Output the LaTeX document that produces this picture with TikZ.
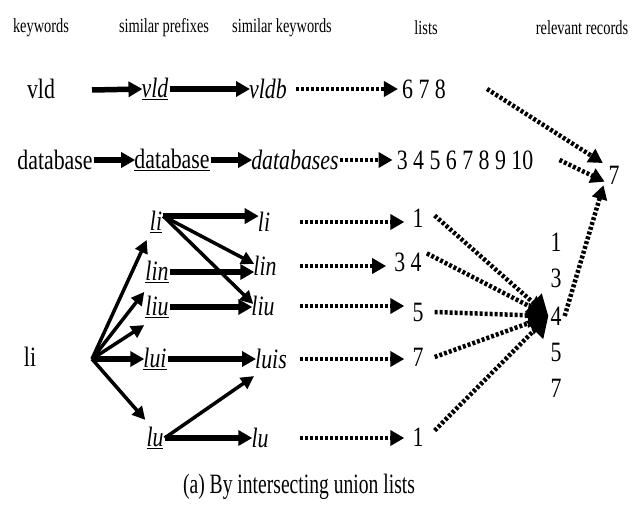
\documentclass[tikz,border=0pt]{standalone}
\usepackage{fontspec}
\setmainfont{Liberation Serif}[FakeStretch=0.78]
\newfontfamily\hdfont{Liberation Serif}[FakeStretch=0.72]
\newfontfamily\capfont{Liberation Serif}[FakeStretch=0.7]
\usetikzlibrary{arrows.meta}
\begin{document}
\begin{tikzpicture}[x=1pt,y=-1pt,
  hd/.style={font=\hdfont\fontsize{20}{20}\selectfont, inner sep=1pt},
  txt/.style={font=\fontsize{28}{28}\selectfont, inner sep=1pt},
  solidarr/.style={line width=5.5pt, -{Triangle[length=14pt,width=15pt]}},
  thinarr/.style={line width=3.5pt, -{Triangle[length=13pt,width=13pt]}},
  dotarr/.style={line width=4.5pt, dash pattern=on 3pt off 2pt, shorten >=3pt, -{Triangle[length=14pt,width=15pt]}},
  bigdot/.style={line width=4.5pt, dash pattern=on 3pt off 2pt, -{Triangle[length=20pt,width=24pt]}}]
\useasboundingbox (0,0) rectangle (644,516);
% column headers
\node[hd] (hk) at (41,28) {keywords};
\node[hd] (hp) at (164,28) {similar prefixes};
\node[hd] (hs) at (282,28) {similar keywords};
\node[hd] (hl) at (426,28) {lists};
\node[hd] (hr) at (582,28) {relevant records};
% keyword vld
\node[txt] (k1) at (41,89) {vld};
\node[txt] (p1) at (155,89) {\underline{\textit{vld}}};
\node[txt] (s1) at (268,89) {\textit{vldb}};
\node[txt] (l1) at (424,89) {6 7 8};
\draw[solidarr] (92,90) -- ([xshift=2pt]p1.west);
\draw[solidarr] (p1.east) -- ([xshift=2pt]s1.west);
\draw[dotarr] ([xshift=8pt]s1.east) -- (l1.west);
% keyword database
\node[txt] (k2) at (55,160) {database};
\node[txt] (p2) at (172,160) {\underline{database}};
\node[txt] (s2) at (295,160) {\textit{databases}};
\node[txt] (l2) at (465,160) {3 4 5 6 7 8 9 10};
\draw[solidarr] (k2.east) -- ([xshift=2pt]p2.west);
\draw[solidarr] (p2.east) -- ([xshift=2pt]s2.west);
\draw[dotarr] (s2.east) -- (l2.west);
% relevant record
\node[txt] (r7) at (614,175) {7};
\draw[dotarr] ([xshift=40pt]l1.east) -- ([xshift=-2pt]r7.north west);
\draw[dotarr] ([xshift=25pt]l2.east) -- ([yshift=-8pt]r7.west);
% keyword li
\node[txt] (k3) at (30,357) {li};
\coordinate (f) at (92,359);
\node[txt] (pa) at (156,222) {\underline{\textit{li}}};
\node[txt] (pb) at (157,272) {\underline{\textit{lin}}};
\node[txt] (pc) at (157,307) {\underline{\textit{liu}}};
\node[txt] (pd) at (155,359) {\underline{\textit{lui}}};
\node[txt] (pe) at (155,438) {\underline{\textit{lu}}};
\node[txt] (sa) at (264,222) {\textit{li}};
\node[txt] (sb) at (265,266) {\textit{lin}};
\node[txt] (sc) at (263,306) {\textit{liu}};
\node[txt] (sd) at (271,359) {\textit{luis}};
\node[txt] (se) at (260,438) {\textit{lu}};
\draw[thinarr] (f) -- ([xshift=-2pt,yshift=-6pt]pa.south west);
\draw[thinarr] (f) -- ([yshift=-8pt]pb.south west);
\draw[thinarr] (f) -- ([yshift=-6pt]pc.south west);
\draw[solidarr] (f) -- ([xshift=2pt]pd.west);
\draw[thinarr] (f) -- ([yshift=6pt]pe.north west);
\coordinate (pao) at ([yshift=-6pt]pa.north east);
\draw[solidarr] (pao) -- ([xshift=2pt]pao -| sa.west);
\draw[thinarr] (pao) -- ([xshift=2pt,yshift=2pt]sb.west);
\draw[thinarr] (pao) -- ([xshift=3pt,yshift=2pt]sc.west);
\draw[solidarr] (pb.east) -- ([xshift=2pt]pb.east -| sb.west);
\draw[solidarr] (pc.east) -- ([xshift=2pt]pc.east -| sc.west);
\draw[solidarr] (pd.east) -- ([xshift=2pt]sd.west);
\draw[thinarr] (pe.east) -- ([yshift=-6pt]sd.south west);
\draw[solidarr] (pe.east) -- ([xshift=2pt]se.west);
% lists
\node[txt] (la) at (418,218) {1};
\node[txt] (lb) at (408,262) {3 4};
\node[txt] (lc) at (418,312) {5};
\node[txt] (ld) at (418,357) {7};
\node[txt] (le) at (418,437) {1};
\foreach \s/\l in {sa/la, sb/lb, sc/lc, sd/ld, se/le}
  \draw[dotarr] (300,0 |- \s.east) -- ([xshift=-4pt]\l.west |- \s.east);
% union of the li lists
\node[txt] (u1) at (556,242) {1};
\node[txt] (u3) at (556,278) {3};
\node[txt] (u4) at (556,316) {4};
\node[txt] (u5) at (556,352) {5};
\node[txt] (u7) at (556,388) {7};
\coordinate (m) at ([xshift=-1pt]u4.west);
\draw[bigdot] ([xshift=10pt,yshift=-8pt]la.north east) -- (m);
\draw[bigdot] ([xshift=4pt,yshift=-2pt]lb.north east) -- (m);
\draw[bigdot] ([xshift=10pt]lc.east) -- (m);
\draw[bigdot] ([xshift=10pt]ld.east) -- (m);
\draw[bigdot] ([xshift=10pt,yshift=-4pt]le.north east) -- (m);
\draw[dotarr] ([xshift=2pt]u4.east) -- ([xshift=-3pt,yshift=3pt]r7.south west);
% caption
\node[font=\capfont\fontsize{28}{28}\selectfont, inner sep=1pt] (cap) at (299,487) {(a) By intersecting union lists};
\end{tikzpicture}
\end{document}
